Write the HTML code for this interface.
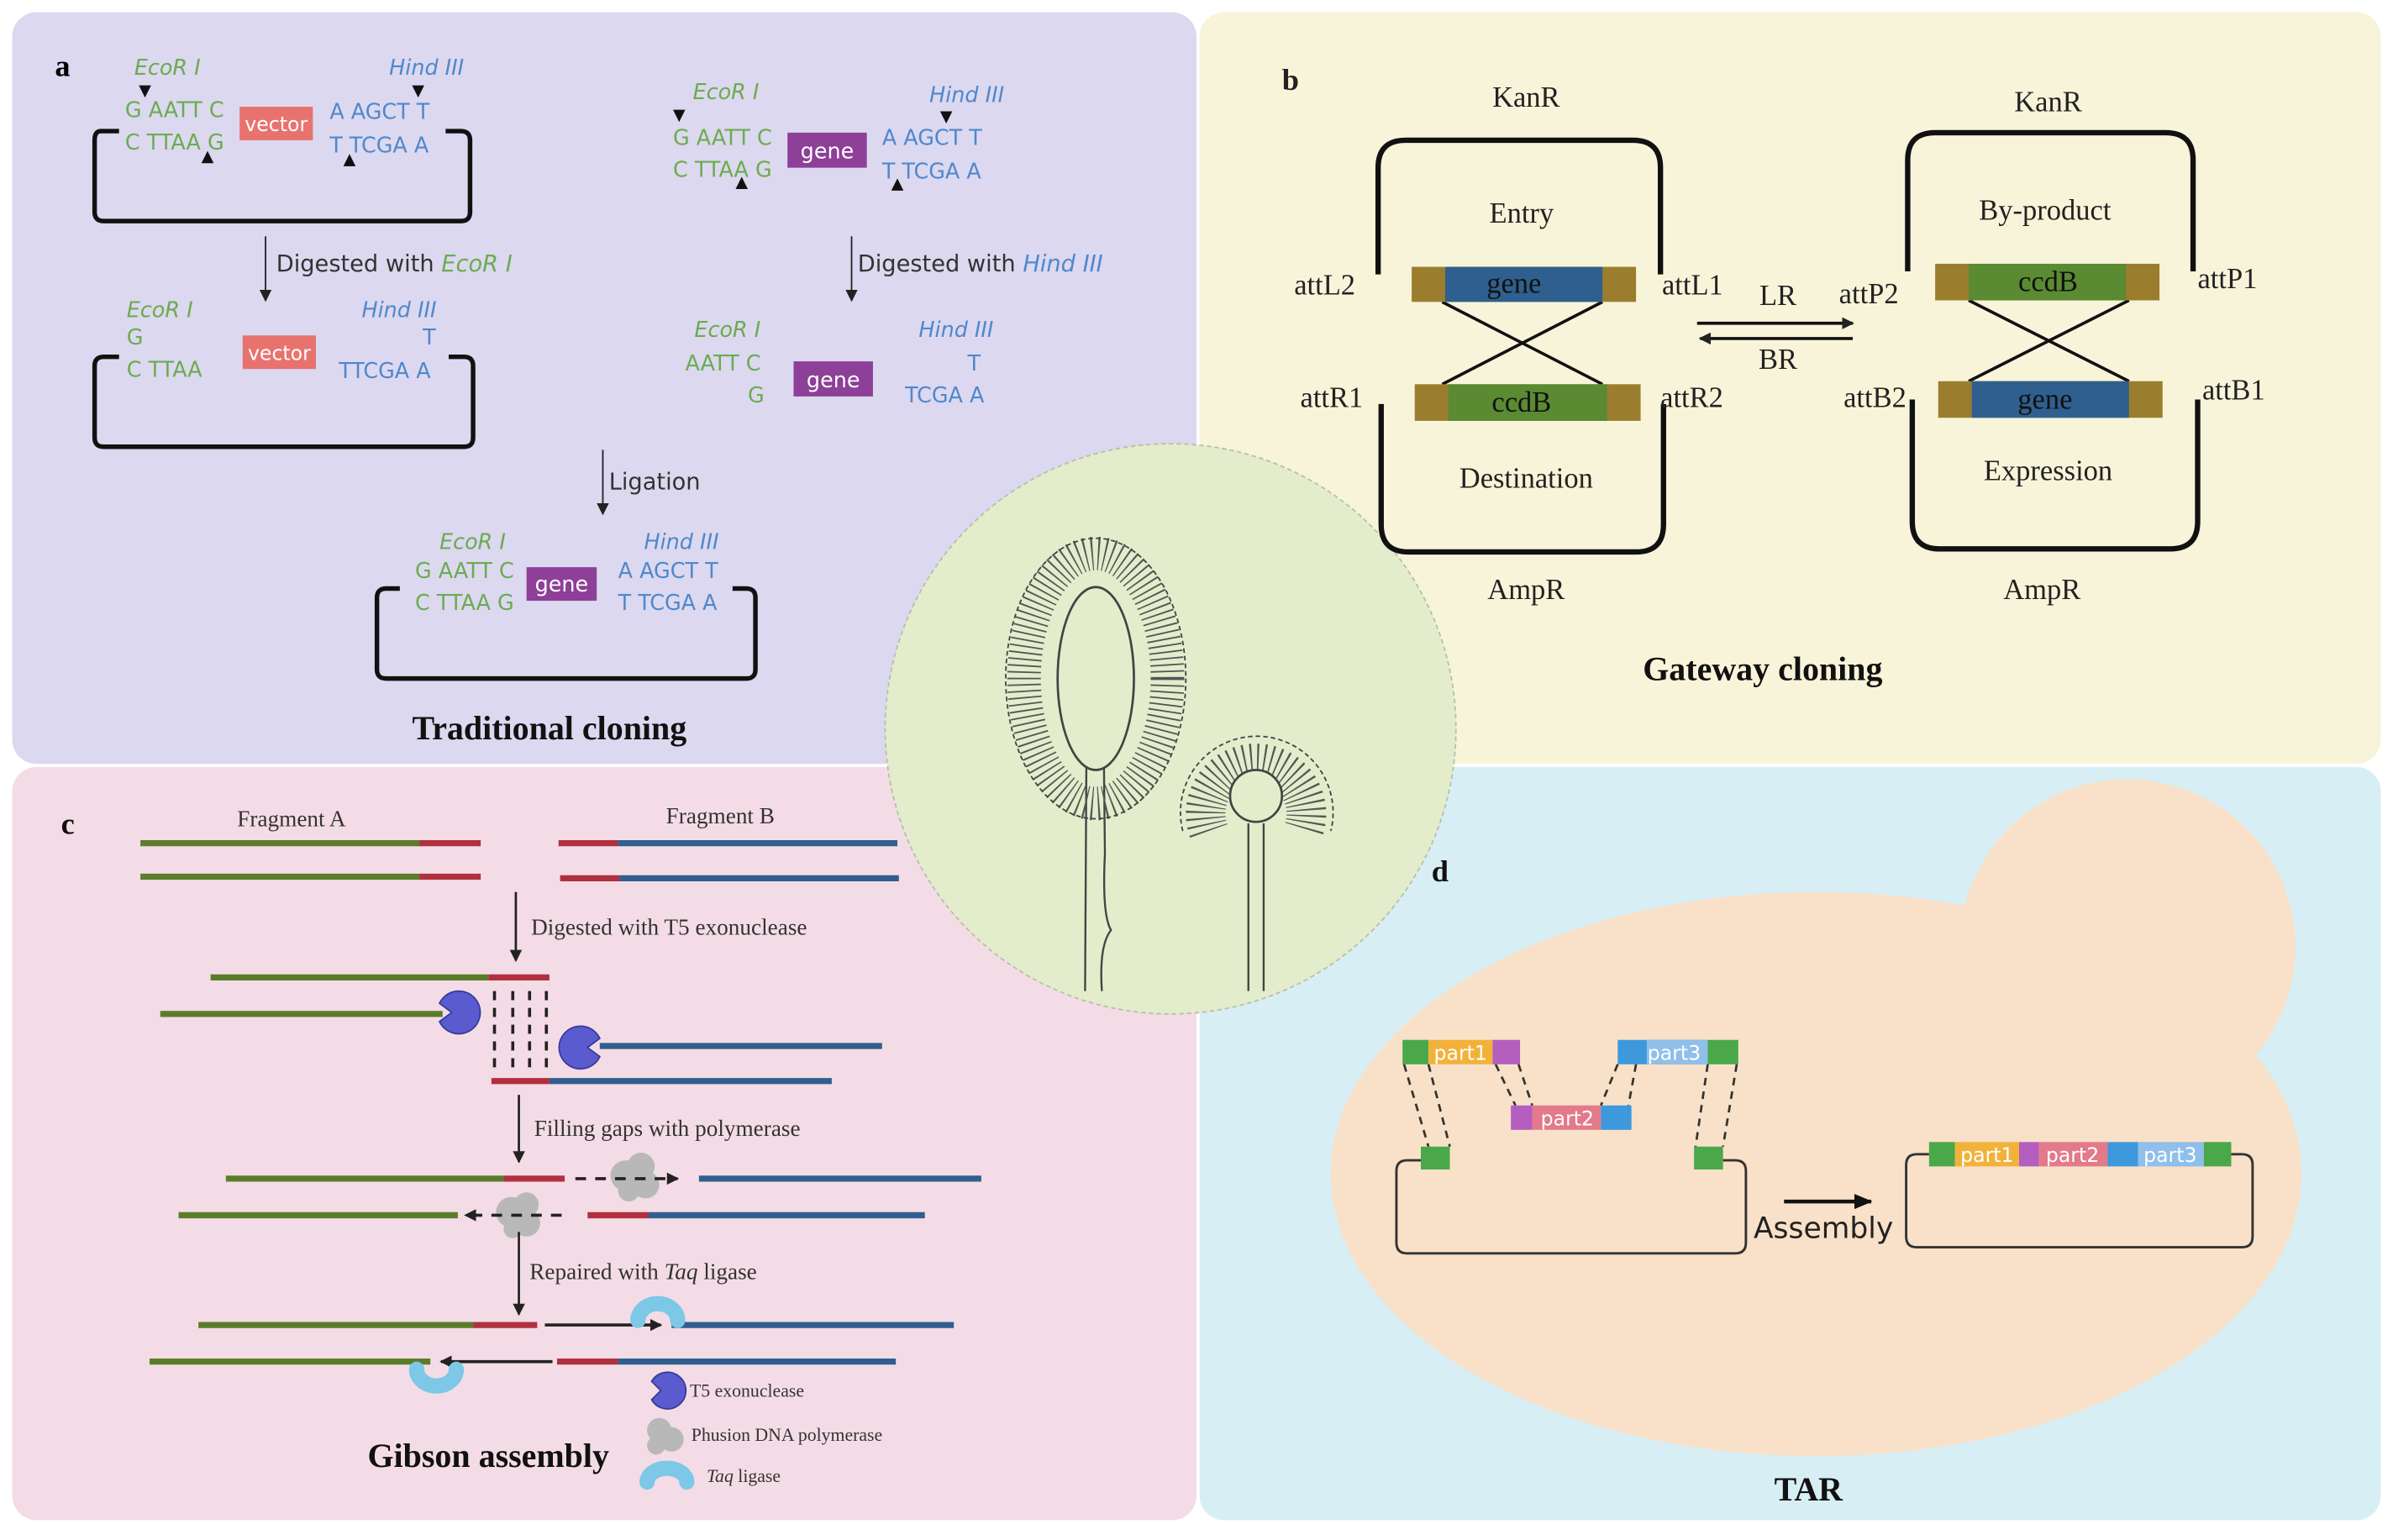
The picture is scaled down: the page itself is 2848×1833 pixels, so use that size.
<!DOCTYPE html>
<html><head><meta charset="utf-8"><style>
html,body{margin:0;padding:0;background:#fff;}
svg{display:block;}
.s{font-family:"DejaVu Sans","Liberation Sans",sans-serif;}
.g{fill:#6cab4f;}
.b{fill:#4f88cc;}
.it{font-style:italic;}
.sf{font-family:"Liberation Serif",serif;}
</style></head><body>
<svg width="2848" height="1833" viewBox="0 0 1568 1010" preserveAspectRatio="none" xmlns="http://www.w3.org/2000/svg">
<defs>
<marker id="ah" markerWidth="8" markerHeight="8" refX="7" refY="4" orient="auto" markerUnits="userSpaceOnUse"><path d="M0,0 L8,4 L0,8 z" fill="#222"/></marker>
<marker id="ah2" markerWidth="12" markerHeight="10" refX="11" refY="5" orient="auto" markerUnits="userSpaceOnUse"><path d="M0,0 L12,5 L0,10 z" fill="#111"/></marker>
</defs>
<rect width="1568" height="1010" fill="#fff"/>
<!-- panels -->
<rect x="8" y="8" width="776" height="493" rx="16" fill="#dcd8f0"/>
<rect x="786" y="8" width="774" height="493" rx="16" fill="#f8f4da"/>
<rect x="8" y="503" width="776" height="494" rx="16" fill="#f4dce6"/>
<rect x="786" y="503" width="774" height="494" rx="16" fill="#d8eef5"/>
<!-- peach cell -->
<ellipse cx="1190" cy="770" rx="318" ry="185" fill="#f8e1c8"/>
<circle cx="1394" cy="621" r="110" fill="#f8e1c8"/>
<!-- center circle -->
<circle cx="767" cy="478" r="187" fill="#e3edcc" stroke="#b8c0a8" stroke-width="1" stroke-dasharray="3 2"/>
<!-- fungi -->
<g fill="none" stroke="#444">
<path d="M711,650 L712,470 M722,650 Q720,620 728,610 Q722,600 724,560 L723,470" stroke-width="1.3"/>
<ellipse cx="718" cy="445" rx="47" ry="82" stroke-width="22" stroke-dasharray="1 3.2" stroke="#555"/>
<ellipse cx="718" cy="445" rx="25" ry="60" stroke-width="1.5" fill="#e3edcc"/>
<ellipse cx="718" cy="445" rx="59" ry="92" stroke-width="1" stroke-dasharray="3 2"/>
<path d="M818,650 L818,540 M828,650 L828,540" stroke-width="1.3"/>
<path d="M792,545 A33,33 0 1 1 854,545" stroke-width="26" stroke-dasharray="1 3" stroke="#555"/>
<circle cx="823" cy="522" r="17" stroke-width="1.5" fill="#e3edcc"/>
<path d="M775,545 A50,50 0 1 1 872,545" stroke-width="1" stroke-dasharray="3 2"/>
</g>

<!-- PANEL A -->
<g class="s" font-size="14">
<text x="36" y="50" font-family="Liberation Serif,serif" font-weight="bold" font-size="20">a</text>
<g fill="none" stroke="#111" stroke-width="3">
<path d="M78,86 H66 Q62,86 62,92 V139 Q62,145 68,145 H302 Q308,145 308,139 V92 Q308,86 302,86 H292"/>
<path d="M78,234 H68 Q62,234 62,240 V287 Q62,293 68,293 H304 Q310,293 310,287 V240 Q310,234 304,234 H294"/>
<path d="M262,386 H253 Q247,386 247,392 V439 Q247,445 253,445 H489 Q495,445 495,439 V392 Q495,386 489,386 H480"/>
</g>
<text x="88" y="49" class="g it">EcoR I</text>
<text x="82" y="77" class="g">G AATT C</text>
<text x="82" y="98" class="g">C TTAA G</text>
<rect x="157" y="70" width="48" height="22" fill="#e8736e"/><text x="181" y="86" fill="#fff" font-size="13" text-anchor="middle">vector</text>
<text x="216" y="78" class="b">A AGCT T</text>
<text x="216" y="100" class="b">T TCGA A</text>
<text x="255" y="49" class="b it">Hind III</text>
<path d="M91,56 L99,56 L95,64z M270,56 L278,56 L274,64z M132,107 L140,107 L136,99z M225,109 L233,109 L229,101z" fill="#111"/>
<line x1="174" y1="155" x2="174" y2="197" stroke="#222" marker-end="url(#ah)"/>
<text x="181" y="178" font-size="15" fill="#333">Digested with <tspan class="g it">EcoR I</tspan></text>
<text x="83" y="208" class="g it">EcoR I</text>
<text x="83" y="226" class="g">G</text>
<text x="83" y="247" class="g">C TTAA</text>
<rect x="159" y="220" width="48" height="22" fill="#e8736e"/><text x="183" y="236" fill="#fff" font-size="13" text-anchor="middle">vector</text>
<text x="237" y="208" class="b it">Hind III</text>
<text x="277" y="226" class="b">T</text>
<text x="222" y="248" class="b">TTCGA A</text>

<text x="454" y="65" class="g it">EcoR I</text>
<text x="441" y="95" class="g">G AATT C</text>
<text x="441" y="116" class="g">C TTAA G</text>
<rect x="516" y="87" width="52" height="23" fill="#8e3f97"/><text x="542" y="104" fill="#fff" font-size="14" text-anchor="middle">gene</text>
<text x="578" y="95" class="b">A AGCT T</text>
<text x="578" y="117" class="b">T TCGA A</text>
<text x="609" y="67" class="b it">Hind III</text>
<path d="M441,72 L449,72 L445,80z M616,73 L624,73 L620,81z M482,124 L490,124 L486,116z M584,125 L592,125 L588,117z" fill="#111"/>
<line x1="558" y1="155" x2="558" y2="197" stroke="#222" marker-end="url(#ah)"/>
<text x="562" y="178" font-size="15" fill="#333">Digested with <tspan class="b it">Hind III</tspan></text>
<text x="455" y="221" class="g it">EcoR I</text>
<text x="449" y="243" class="g">AATT C</text>
<text x="490" y="264" class="g">G</text>
<rect x="520" y="237" width="52" height="23" fill="#8e3f97"/><text x="546" y="254" fill="#fff" font-size="14" text-anchor="middle">gene</text>
<text x="602" y="221" class="b it">Hind III</text>
<text x="634" y="243" class="b">T</text>
<text x="593" y="264" class="b">TCGA A</text>

<line x1="395" y1="295" x2="395" y2="337" stroke="#222" marker-end="url(#ah)"/>
<text x="399" y="321" font-size="15" fill="#333">Ligation</text>
<text x="288" y="360" class="g it">EcoR I</text>
<text x="272" y="379" class="g">G AATT C</text>
<text x="272" y="400" class="g">C TTAA G</text>
<rect x="345" y="372" width="46" height="22" fill="#8e3f97"/><text x="368" y="388" fill="#fff" font-size="14" text-anchor="middle">gene</text>
<text x="422" y="360" class="b it">Hind III</text>
<text x="405" y="379" class="b">A AGCT T</text>
<text x="405" y="400" class="b">T TCGA A</text>
<text x="360" y="485" class="sf" font-size="22" font-weight="bold" text-anchor="middle" fill="#111">Traditional cloning</text>
</g>

<!-- PANEL B -->
<g class="sf" font-size="19" fill="#222">
<text x="840" y="59" font-weight="bold" font-size="20">b</text>
<g fill="none" stroke="#111" stroke-width="3.5">
<path d="M903,180 V110 Q903,92 921,92 H1070 Q1088,92 1088,110 V180"/>
<path d="M905,265 V344 Q905,362 923,362 H1072 Q1090,362 1090,344 V265"/>
<path d="M1250,178 V105 Q1250,87 1268,87 H1419 Q1437,87 1437,105 V178"/>
<path d="M1253,262 V342 Q1253,360 1271,360 H1422 Q1440,360 1440,342 V262"/>
</g>
<g stroke="#111" stroke-width="2">
<line x1="945" y1="198" x2="1050" y2="252"/><line x1="1050" y1="198" x2="945" y2="252"/>
<line x1="1290" y1="197" x2="1395" y2="250"/><line x1="1395" y1="197" x2="1290" y2="250"/>
</g>
<rect x="925" y="175" width="147" height="23" fill="#9b7d2e"/><rect x="947" y="175" width="103" height="23" fill="#2f5f8e"/>
<text x="992" y="192" text-anchor="middle" fill="#111">gene</text>
<rect x="927" y="252" width="148" height="24" fill="#9b7d2e"/><rect x="949" y="252" width="104" height="24" fill="#5a8a32"/>
<text x="997" y="270" text-anchor="middle" fill="#111">ccdB</text>
<rect x="1268" y="173" width="147" height="24" fill="#9b7d2e"/><rect x="1290" y="173" width="103" height="24" fill="#5a8a32"/>
<text x="1342" y="191" text-anchor="middle" fill="#111">ccdB</text>
<rect x="1270" y="250" width="147" height="24" fill="#9b7d2e"/><rect x="1292" y="250" width="103" height="24" fill="#2f5f8e"/>
<text x="1340" y="268" text-anchor="middle" fill="#111">gene</text>
<text x="1000" y="70" text-anchor="middle">KanR</text>
<text x="997" y="146" text-anchor="middle">Entry</text>
<text x="848" y="193">attL2</text>
<text x="1089" y="193">attL1</text>
<text x="852" y="267">attR1</text>
<text x="1088" y="267">attR2</text>
<text x="1000" y="320" text-anchor="middle">Destination</text>
<text x="1000" y="393" text-anchor="middle">AmpR</text>
<text x="1165" y="200" text-anchor="middle">LR</text>
<text x="1165" y="242" text-anchor="middle">BR</text>
<line x1="1112" y1="212" x2="1214" y2="212" stroke="#111" stroke-width="2" marker-end="url(#ah)"/>
<line x1="1214" y1="222" x2="1114" y2="222" stroke="#111" stroke-width="2" marker-end="url(#ah)"/>
<text x="1342" y="73" text-anchor="middle">KanR</text>
<text x="1340" y="144" text-anchor="middle">By-product</text>
<text x="1205" y="199">attP2</text>
<text x="1440" y="189">attP1</text>
<text x="1208" y="267">attB2</text>
<text x="1443" y="262">attB1</text>
<text x="1342" y="315" text-anchor="middle">Expression</text>
<text x="1338" y="393" text-anchor="middle">AmpR</text>
<text x="1155" y="446" text-anchor="middle" font-weight="bold" font-size="22" fill="#111">Gateway cloning</text>
</g>

<!-- PANEL C -->
<g stroke-width="4">
<line x1="92" y1="553" x2="275" y2="553" stroke="#5a7d2a"/><line x1="275" y1="553" x2="315" y2="553" stroke="#b03040"/>
<line x1="92" y1="575" x2="275" y2="575" stroke="#5a7d2a"/><line x1="275" y1="575" x2="315" y2="575" stroke="#b03040"/>
<line x1="366" y1="553" x2="405" y2="553" stroke="#b03040"/><line x1="405" y1="553" x2="588" y2="553" stroke="#2f5f8e"/>
<line x1="367" y1="576" x2="406" y2="576" stroke="#b03040"/><line x1="406" y1="576" x2="589" y2="576" stroke="#2f5f8e"/>
<line x1="138" y1="641" x2="320" y2="641" stroke="#5a7d2a"/><line x1="320" y1="641" x2="360" y2="641" stroke="#b03040"/>
<line x1="105" y1="665" x2="290" y2="665" stroke="#5a7d2a"/>
<line x1="393" y1="686" x2="578" y2="686" stroke="#2f5f8e"/>
<line x1="322" y1="709" x2="360" y2="709" stroke="#b03040"/><line x1="360" y1="709" x2="545" y2="709" stroke="#2f5f8e"/>
<line x1="148" y1="773" x2="330" y2="773" stroke="#5a7d2a"/><line x1="330" y1="773" x2="370" y2="773" stroke="#b03040"/>
<line x1="458" y1="773" x2="643" y2="773" stroke="#2f5f8e"/>
<line x1="117" y1="797" x2="300" y2="797" stroke="#5a7d2a"/>
<line x1="385" y1="797" x2="425" y2="797" stroke="#b03040"/><line x1="425" y1="797" x2="606" y2="797" stroke="#2f5f8e"/>
<line x1="130" y1="869" x2="310" y2="869" stroke="#5a7d2a"/><line x1="310" y1="869" x2="352" y2="869" stroke="#b03040"/>
<line x1="440" y1="869" x2="625" y2="869" stroke="#2f5f8e"/>
<line x1="98" y1="893" x2="282" y2="893" stroke="#5a7d2a"/>
<line x1="365" y1="893" x2="405" y2="893" stroke="#b03040"/><line x1="405" y1="893" x2="587" y2="893" stroke="#2f5f8e"/>
</g>
<g stroke="#222" stroke-width="2" stroke-dasharray="6 5">
<line x1="324" y1="650" x2="324" y2="705"/><line x1="336" y1="650" x2="336" y2="705"/><line x1="347" y1="650" x2="347" y2="705"/><line x1="358" y1="650" x2="358" y2="705"/>
</g>
<!-- pacmen -->
<path d="M298,664 m-10,-6 A14,14 0 1 1 288,670 L296,664 z" fill="#5b5bd0" stroke="#3a3a9a"/>
<path d="M383,687 m10,-6 A14,14 0 1 0 393,693 L385,687 z" fill="#5b5bd0" stroke="#3a3a9a"/>
<!-- polymerase blobs -->
<g fill="#b8b8b8">
<circle cx="410" cy="771" r="10"/><circle cx="420" cy="765" r="9"/><circle cx="423" cy="777" r="9"/><circle cx="412" cy="781" r="7"/>
<circle cx="335" cy="795" r="10"/><circle cx="345" cy="790" r="8"/><circle cx="345" cy="802" r="9"/><circle cx="336" cy="806" r="6"/>
<circle cx="432" cy="938" r="8"/><circle cx="440" cy="944" r="8"/><circle cx="430" cy="948" r="6"/>
</g>
<g stroke="#222" stroke-width="2">
<line x1="377" y1="773" x2="444" y2="773" stroke-dasharray="7 6" marker-end="url(#ah)"/>
<line x1="368" y1="797" x2="305" y2="797" stroke-dasharray="7 6" marker-end="url(#ah)"/>
<line x1="357" y1="869" x2="433" y2="869" marker-end="url(#ah)"/>
<line x1="362" y1="893" x2="289" y2="893" marker-end="url(#ah)"/>
</g>
<!-- ligase -->
<g fill="none" stroke="#7cc8e6" stroke-width="10" stroke-linecap="round">
<path d="M418,866 A13,11 0 0 1 444,866"/>
<path d="M273,898 A13,11 0 0 0 299,898"/>
<path d="M424,972 A13,9 0 0 1 450,972"/>
</g>
<path d="M435,912 m-8,-6 A12,12 0 1 1 427,918 L433,912 z" fill="#5b5bd0" stroke="#3a3a9a"/>
<g class="sf" fill="#333">
<text x="40" y="547" font-family="Liberation Serif,serif" font-weight="bold" font-size="20" fill="#111">c</text>
<text x="191" y="542" font-size="15" text-anchor="middle">Fragment A</text>
<text x="472" y="540" font-size="15" text-anchor="middle">Fragment B</text>
<text x="348" y="613" font-size="15">Digested with T5 exonuclease</text>
<text x="350" y="745" font-size="15">Filling gaps with polymerase</text>
<text x="347" y="839" font-size="15">Repaired with <tspan font-style="italic">Taq</tspan> ligase</text>
<text x="452" y="916" font-size="12">T5 exonuclease</text>
<text x="453" y="945" font-size="12">Phusion DNA polymerase</text>
<text x="463" y="972" font-size="12"><tspan font-style="italic">Taq</tspan> ligase</text>
<text x="320" y="962" font-size="22" font-weight="bold" text-anchor="middle" fill="#111">Gibson assembly</text>
</g>
<line x1="338" y1="585" x2="338" y2="630" stroke="#222" stroke-width="1.5" marker-end="url(#ah)"/>
<line x1="340" y1="718" x2="340" y2="762" stroke="#222" stroke-width="1.5" marker-end="url(#ah)"/>
<line x1="340" y1="808" x2="340" y2="862" stroke="#222" stroke-width="1.5" marker-end="url(#ah)"/>

<!-- PANEL D -->
<text x="938" y="578" font-family="Liberation Serif,serif" font-weight="bold" font-size="20" fill="#111">d</text>
<g fill="none" stroke="#333" stroke-width="1.6">
<path d="M931,761 H922 Q915,761 915,768 V815 Q915,822 922,822 H1137 Q1144,822 1144,815 V768 Q1144,761 1137,761 H1129"/>
<path d="M1264,757 H1256 Q1249,757 1249,764 V811 Q1249,818 1256,818 H1469 Q1476,818 1476,811 V764 Q1476,757 1469,757 H1462"/>
</g>
<g stroke="#333" stroke-width="1.5" stroke-dasharray="5 4" fill="none">
<path d="M920,698 L936,752 M936,698 L950,752"/>
<path d="M980,698 L993,725 M995,698 L1004,725"/>
<path d="M1060,698 L1049,725 M1072,698 L1067,725"/>
<path d="M1119,698 L1111,752 M1138,698 L1129,752"/>
</g>
<rect x="919" y="682" width="17" height="16" fill="#4aa84a"/><rect x="936" y="682" width="42" height="16" fill="#f2b23a"/><rect x="978" y="682" width="18" height="16" fill="#b45ec0"/>
<rect x="1060" y="682" width="59" height="16" fill="#3d98dc"/><rect x="1079" y="682" width="40" height="16" fill="#8fbfea"/><rect x="1119" y="682" width="20" height="16" fill="#4aa84a"/>
<rect x="990" y="725" width="14" height="16" fill="#b45ec0"/><rect x="1004" y="725" width="45" height="16" fill="#e27a8a"/><rect x="1049" y="725" width="20" height="16" fill="#3d98dc"/>
<rect x="931" y="752" width="19" height="15" fill="#4aa84a"/><rect x="1110" y="752" width="19" height="15" fill="#4aa84a"/>
<rect x="1264" y="749" width="17" height="16" fill="#4aa84a"/><rect x="1281" y="749" width="42" height="16" fill="#f2b23a"/><rect x="1323" y="749" width="13" height="16" fill="#b45ec0"/><rect x="1336" y="749" width="45" height="16" fill="#e27a8a"/><rect x="1381" y="749" width="20" height="16" fill="#3d98dc"/><rect x="1401" y="749" width="43" height="16" fill="#8fbfea"/><rect x="1444" y="749" width="18" height="16" fill="#4aa84a"/>
<g class="s" font-size="13" fill="#fff">
<text x="957" y="695" text-anchor="middle">part1</text>
<text x="1097" y="695" text-anchor="middle">part3</text>
<text x="1027" y="738" text-anchor="middle">part2</text>
<text x="1302" y="762" text-anchor="middle">part1</text>
<text x="1358" y="762" text-anchor="middle">part2</text>
<text x="1422" y="762" text-anchor="middle">part3</text>
</g>
<line x1="1169" y1="788" x2="1226" y2="788" stroke="#111" stroke-width="2.5" marker-end="url(#ah2)"/>
<text x="1149" y="812" class="s" font-size="19" fill="#222">Assembly</text>
<text x="1185" y="984" class="sf" font-size="22" font-weight="bold" text-anchor="middle" fill="#111">TAR</text>
</svg>
</body></html>
